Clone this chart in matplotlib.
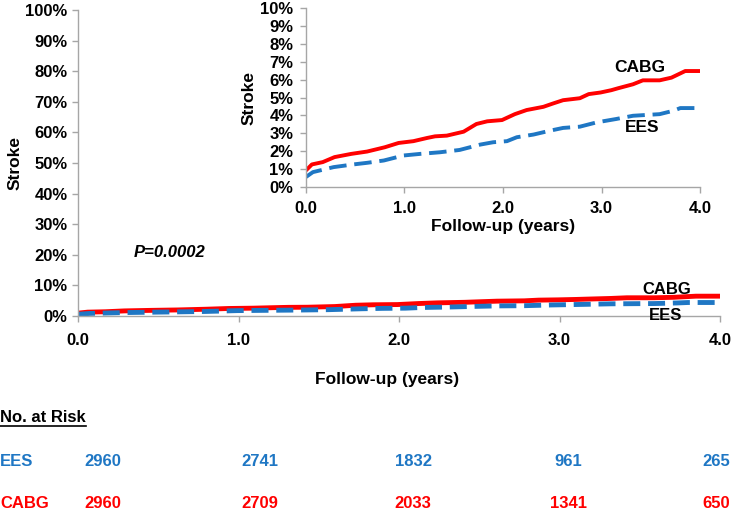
"""Cumulative stroke incidence, EES vs CABG, with zoomed inset and numbers at risk."""

import matplotlib

matplotlib.use("Agg")
import matplotlib.pyplot as plt
from matplotlib.ticker import FuncFormatter

plt.rcParams["font.family"] = ["Liberation Sans", "DejaVu Sans"]
plt.rcParams["font.weight"] = "bold"
plt.rcParams["axes.labelweight"] = "bold"

RED = "#ff0000"
BLUE = "#1f77c4"
GREY = "#a6a6a6"

# Kaplan-Meier estimates (years, % with stroke)
cabg_years = [0.0, 0.06, 0.17, 0.29, 0.46, 0.62, 0.80, 0.94, 1.09, 1.23, 1.31,
              1.43, 1.60, 1.73, 1.84, 1.99, 2.12, 2.24, 2.41, 2.51, 2.61, 2.78,
              2.87, 2.99, 3.10, 3.17, 3.32, 3.42, 3.59, 3.71, 3.85, 4.0]
cabg_pct = [0.93, 1.26, 1.39, 1.67, 1.85, 1.98, 2.22, 2.46, 2.56, 2.74, 2.83,
            2.87, 3.09, 3.52, 3.67, 3.74, 4.07, 4.30, 4.48, 4.67, 4.85, 4.96,
            5.19, 5.28, 5.41, 5.52, 5.74, 5.96, 5.96, 6.11, 6.48, 6.48]
ees_years = [0.0, 0.07, 0.28, 0.48, 0.62, 0.79, 0.99, 1.16, 1.36, 1.56, 1.77,
             1.90, 2.04, 2.14, 2.31, 2.48, 2.61, 2.78, 2.95, 3.15, 3.32, 3.59,
             3.73, 3.80, 4.0]
ees_pct = [0.56, 0.83, 1.11, 1.26, 1.35, 1.48, 1.76, 1.85, 1.94, 2.07, 2.37,
           2.50, 2.56, 2.78, 2.93, 3.15, 3.30, 3.37, 3.61, 3.80, 3.98, 4.07,
           4.26, 4.41, 4.41]

x_ticks = [0.0, 1.0, 2.0, 3.0, 4.0]
ees_at_risk = [2960, 2741, 1832, 961, 265]
cabg_at_risk = [2960, 2709, 2033, 1341, 650]
p_value = "P=0.0002"

pct_fmt = FuncFormatter(lambda v, _: f"{v:.0f}%")


def style_axes(ax, ymax, ystep):
    for side in ("top", "right"):
        ax.spines[side].set_visible(False)
    for side in ("left", "bottom"):
        ax.spines[side].set_color(GREY)
        ax.spines[side].set_linewidth(1.0)
    ax.set_xlim(0, 4.0)
    ax.set_ylim(0, ymax)
    ax.set_xticks(x_ticks)
    ax.set_xticklabels([f"{t:.1f}" for t in x_ticks])
    ax.set_yticks([ystep * i for i in range(int(round(ymax / ystep)) + 1)])
    ax.yaxis.set_major_formatter(pct_fmt)
    ax.tick_params(colors=GREY, length=4, width=1.0, labelcolor="black",
                   labelsize=12)
    ax.tick_params(axis="x", pad=8)
    ax.set_facecolor("none")


fig = plt.figure(figsize=(7.31, 5.12), dpi=100)

# main panel, full 0-100% scale
ax = fig.add_axes([0.1067, 0.3828, 0.8783, 0.5977])
ax.plot(cabg_years, cabg_pct, color=RED, lw=3.5, solid_joinstyle="round")
ax.plot(ees_years, ees_pct, color=BLUE, lw=3.5, dashes=(3.5, 1.6))
style_axes(ax, 100, 10)
ax.set_ylabel("Stroke", fontsize=12.5, labelpad=2)
ax.text(3.67, 8.5, "CABG", fontsize=12, ha="center", va="center")
ax.text(3.66, 0.3, "EES", fontsize=12, ha="center", va="center")
ax.text(0.57, 20.6, p_value, fontsize=12, style="italic", ha="center",
        va="center")
fig.text(0.529, 0.258, "Follow-up (years)", fontsize=12.5, ha="center",
         va="center")

# inset, zoomed to 0-10%
inset = fig.add_axes([0.4186, 0.6348, 0.539, 0.3495])
inset.plot(cabg_years, cabg_pct, color=RED, lw=2.8, solid_joinstyle="round")
inset.plot(ees_years, ees_pct, color=BLUE, lw=2.8, dashes=(4.5, 2.0))
style_axes(inset, 10, 1)
inset.tick_params(axis="x", pad=6)
inset.tick_params(axis="y", pad=5)
inset.set_ylabel("Stroke", fontsize=12.5, labelpad=3)
inset.set_xlabel("Follow-up (years)", fontsize=12.5, labelpad=2)
inset.text(3.39, 6.65, "CABG", fontsize=12.5, ha="center", va="center")
inset.text(3.41, 3.3, "EES", fontsize=12.5, ha="center", va="center")

# numbers at risk
col_x = [0.141, 0.356, 0.565, 0.778, 0.980]
label = fig.text(0.0, 0.184, "No. at Risk", fontsize=12, ha="left",
                 va="center")
fig.canvas.draw()
bb = label.get_window_extent().transformed(fig.transFigure.inverted())
fig.add_artist(plt.Line2D([bb.x0, bb.x1], [bb.y0 - 0.002, bb.y0 - 0.002],
                          transform=fig.transFigure, color="black", lw=1.2))

for name, counts, color, y in (("EES", ees_at_risk, BLUE, 0.098),
                               ("CABG", cabg_at_risk, RED, 0.016)):
    fig.text(0.0, y, name, fontsize=12, color=color, ha="left", va="center")
    for cx, n in zip(col_x, counts):
        fig.text(cx, y, f"{n}", fontsize=12, color=color, ha="center",
                 va="center")

fig.savefig("out.png", dpi=100)
plt.close(fig)
